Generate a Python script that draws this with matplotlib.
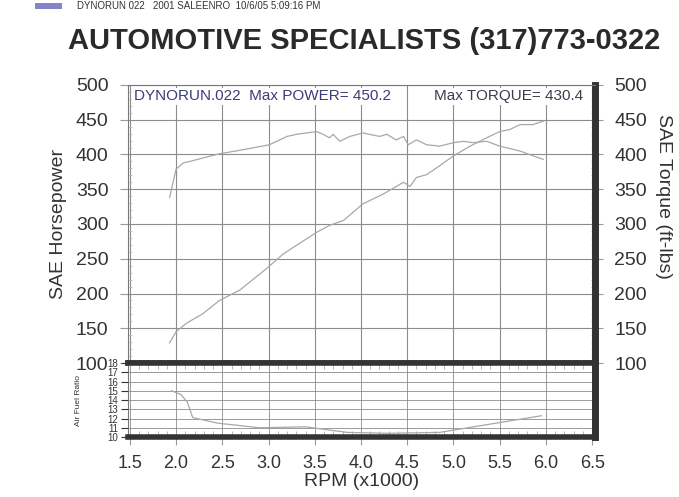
import numpy as np
import matplotlib
matplotlib.use('Agg')
import matplotlib.pyplot as plt
from matplotlib.patches import Rectangle

plt.rcParams['font.family'] = ['Liberation Sans', 'DejaVu Sans']

# dyno run values (rpm x1000)
hp_rpm = [1.93, 2.0, 2.11, 2.29, 2.47, 2.69, 2.98, 3.16, 3.38, 3.52, 3.66, 3.81, 4.02, 4.24,
          4.42, 4.46, 4.53, 4.6, 4.71, 4.82, 5.0, 5.18, 5.36, 5.5, 5.61, 5.72, 5.86, 5.97]
hp = [129, 145, 157, 171, 190, 205, 236, 257, 276, 288, 298, 305, 329, 343,
      357, 360, 354, 367, 371, 381, 398, 412, 424, 433, 436, 443, 443, 448]

tq_rpm = [1.93, 2.0, 2.08, 2.15, 2.29, 2.47, 2.73, 3.01, 3.2, 3.3, 3.52, 3.59, 3.66, 3.7, 3.77,
          3.88, 4.02, 4.2, 4.28, 4.38, 4.46, 4.51, 4.6, 4.71, 4.85, 5.0, 5.11, 5.21, 5.36,
          5.5, 5.72, 5.86, 5.97]
tq = [338, 379, 388, 390, 395, 401, 407, 414, 426, 429, 433, 429, 424, 429, 419,
      426, 431, 426, 429, 421, 426, 414, 421, 414, 412, 417, 419, 417, 419,
      412, 405, 398, 393]

afr_rpm = [1.95, 2.05, 2.12, 2.18, 2.45, 2.9, 3.4, 3.85, 4.3, 4.85, 5.4, 5.95]
afr = [15.0, 14.6, 13.8, 12.1, 11.5, 11.0, 11.1, 10.5, 10.4, 10.5, 11.4, 12.3]

rpm_ticks = [1.5, 2.0, 2.5, 3.0, 3.5, 4.0, 4.5, 5.0, 5.5, 6.0, 6.5]
power_ticks = [100, 150, 200, 250, 300, 350, 400, 450, 500]
afr_ticks = [10, 11, 12, 13, 14, 15, 16, 17, 18]

fig = plt.figure(figsize=(6.79, 4.97), dpi=100)
ax = fig.add_axes([0.1885, 0.2696, 0.6877, 0.5594])
ax2 = fig.add_axes([0.1885, 0.1207, 0.6877, 0.1489], sharex=ax)

curve_c = '#a8a8a8'
grid_c = '#8c8c8c'

ax.plot(hp_rpm, hp, color=curve_c, lw=0.9)
ax.plot(tq_rpm, tq, color=curve_c, lw=0.9)
ax.set_xlim(1.48, 6.53)
ax.set_ylim(100, 500)
ax.set_yticks(power_ticks)
ax.set_yticks(np.arange(100, 501, 10), minor=True)
ax.set_xticks(rpm_ticks)
ax.grid(True, color=grid_c, lw=0.8)
ax.tick_params(axis='y', which='major', direction='out', length=6, color='#999999',
               labelsize=14, labelcolor='#333333', pad=8, right=True, labelright=True)
ax.tick_params(axis='y', which='minor', direction='in', length=3, color='#bbbbbb', right=True)
ax.tick_params(axis='x', which='both', length=0, labelbottom=False)
ax.set_ylabel('SAE Horsepower', fontsize=14, color='#333333', labelpad=6)
ax.text(1.128, 0.6, 'SAE Torque (ft-lbs)', transform=ax.transAxes, rotation=270,
        fontsize=14, color='#333333', va='center', ha='left')
for s in ['left', 'top']:
    ax.spines[s].set_color('#777777')
    ax.spines[s].set_linewidth(0.8)
ax.spines['right'].set_color('#333333')
ax.spines['right'].set_linewidth(5)
ax.spines['bottom'].set_color('#333333')
ax.spines['bottom'].set_linewidth(4)

ax.text(0.012, 0.985, 'DYNORUN.022  Max POWER= 450.2', transform=ax.transAxes,
        fontsize=11, color='#3c3c78', va='top', ha='left',
        bbox=dict(facecolor='white', edgecolor='none', pad=1))
ax.text(0.655, 0.985, 'Max TORQUE= 430.4', transform=ax.transAxes,
        fontsize=11, color='#3c3c50', va='top', ha='left',
        bbox=dict(facecolor='white', edgecolor='none', pad=1))

# air fuel ratio strip
ax2.plot(afr_rpm, afr, color=curve_c, lw=0.9)
ax2.set_ylim(10, 18)
ax2.set_yticks(afr_ticks)
ax2.set_xticks(rpm_ticks)
ax2.set_xticks(np.arange(1.5, 6.51, 0.1), minor=True)
ax2.grid(True, color=grid_c, lw=0.6)
ax2.tick_params(axis='y', labelsize=7, length=5, color='#333333', labelcolor='#333333', pad=2)
ax2.tick_params(axis='x', which='major', length=6, color='#999999', labelsize=13,
                labelcolor='#333333', pad=7)
ax2.tick_params(axis='x', which='minor', direction='in', length=4, color='#aaaaaa', top=True)
ax2.set_xticklabels(['1.5', '2.0', '2.5', '3.0', '3.5', '4.0', '4.5', '5.0', '5.5', '6.0', '6.5'])
ax2.set_ylabel('Air Fuel Ratio', fontsize=6, color='#333333', labelpad=18)
ax2.set_xlabel('RPM (x1000)', fontsize=14, color='#333333', labelpad=1)
ax2.spines['left'].set_color('#777777')
ax2.spines['top'].set_color('#333333')
ax2.spines['top'].set_linewidth(4)
ax2.spines['right'].set_color('#333333')
ax2.spines['right'].set_linewidth(5)
ax2.spines['bottom'].set_color('#333333')
ax2.spines['bottom'].set_linewidth(4)

# header line and title
fig.patches.append(Rectangle((35 / 679, 1 - 9 / 497), 27 / 679, 6 / 497,
                             transform=fig.transFigure, facecolor='#8484c8', edgecolor='none'))
fig.text(77 / 679, 1 - 6 / 497, 'DYNORUN 022   2001 SALEENRO  10/6/05 5:09:16 PM',
         fontsize=7, color='#333333', va='center', ha='left')
fig.text(0.537, 1 - 41 / 497, 'AUTOMOTIVE SPECIALISTS (317)773-0322',
         fontsize=21, fontweight='bold', color='#2a2a2a', va='center', ha='center')

fig.savefig('out.png', dpi=100)
